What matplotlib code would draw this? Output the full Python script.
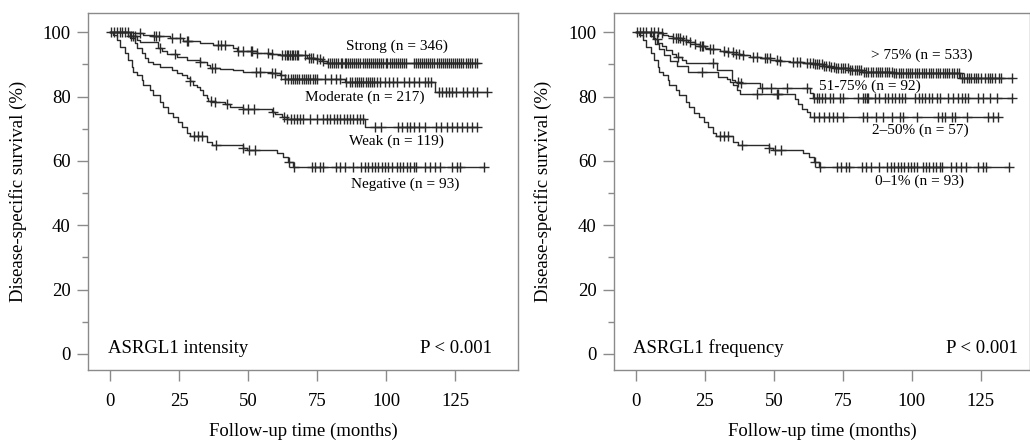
import numpy as np
import matplotlib
matplotlib.use("Agg")
import matplotlib.pyplot as plt

# ---------------- data ----------------
# Left panel: ASRGL1 intensity
strong_t = [8.5, 12.1, 15.7, 21.7, 26.6, 32.6, 37.4, 44.7, 45.9, 53.1, 58.0, 61.6, 71.3, 74.3, 76.7, 78.5]
strong_s = [99.7, 99.3, 98.9, 98.1, 97.4, 96.7, 96.0, 95.0, 94.2, 93.6, 93.2, 92.8, 92.1, 91.6, 91.1, 90.5]
strong_c = [0.5, 1.5, 2.5, 3.5, 4.5, 5.5, 6.5, 10.9, 16.0, 16.8, 17.8, 22.3, 25.4, 27.8, 28.4, 39.1, 40.3,
            41.7, 46.5, 48.3, 51.0, 51.6, 53.1, 57.4, 58.6, 62.2, 63.4, 64.0, 64.6, 65.2, 65.8, 66.4, 67.0,
            67.6, 68.2, 70.7, 72.0, 72.8, 73.5, 75.0, 76.0, 77.3, 79.0, 79.8, 80.5, 81.3, 82.0, 82.7, 83.5,
            84.2, 85.0, 85.6, 86.2, 87.0, 87.8, 88.5, 89.2, 90.0, 90.7, 91.5, 92.2, 93.0, 93.8, 94.5, 95.3,
            96.0, 96.8, 97.5, 98.3, 99.0, 99.8, 100.5, 101.3, 102.0, 102.8, 103.5, 104.3, 105.0, 105.8,
            106.5, 107.2, 110.0, 110.8, 111.5, 112.3, 113.0, 113.8, 114.5, 115.3, 116.0, 116.8, 117.5,
            118.3, 119.0, 119.8, 120.5, 121.3, 122.0, 122.8, 123.5, 124.3, 125.0, 125.8, 126.5, 127.3,
            128.0, 128.8, 129.6, 130.5, 131.3, 132.2, 132.9]

moderate_t = [6.6, 9.7, 10.9, 17.5, 18.7, 20.5, 24.2, 27.8, 32.6, 35.0, 36.2, 39.9, 44.7, 48.3, 58.6, 61.6, 63.4, 85.0, 117.8]
moderate_s = [98.7, 97.6, 97.1, 95.0, 94.2, 93.2, 92.4, 91.4, 90.7, 89.8, 89.0, 88.6, 88.3, 87.8, 87.3, 86.7, 85.6, 84.6, 81.5]
moderate_c = [7.5, 8.2, 9.0, 18.0, 23.5, 32.6, 36.8, 38.0, 53.0, 54.3, 58.6, 59.8, 62.0, 63.4, 64.6, 65.5,
              66.3, 67.0, 67.8, 68.6, 69.4, 70.2, 71.0, 71.8, 72.6, 73.4, 74.2, 74.9, 78.0, 80.0, 82.0, 83.3,
              85.5, 87.0, 87.8, 88.6, 89.4, 90.2, 91.0, 91.8, 92.6, 93.4, 94.2, 95.0, 95.8, 96.6, 97.8, 99.6,
              101.0, 102.5, 104.0, 106.5, 108.3, 110.0, 112.0, 114.0, 115.2, 116.4, 119.2, 120.4, 121.6,
              122.8, 124.0, 125.2, 128.0, 129.2, 131.6, 133.0, 136.5]

weak_t = [7.2, 9.1, 9.7, 11.5, 12.7, 13.9, 15.7, 18.1, 22.3, 24.2, 26.0, 27.8, 29.0, 30.2, 31.4, 32.6,
          33.8, 35.0, 35.6, 38.0, 41.7, 43.5, 48.3, 58.6, 59.8, 62.2, 64.0, 92.4]
weak_s = [98.1, 96.6, 95.0, 93.5, 91.9, 90.9, 90.1, 89.3, 88.3, 87.3, 86.7, 85.7, 84.7, 83.6, 83.1, 82.1,
          80.5, 79.5, 78.7, 78.2, 77.6, 76.9, 76.2, 75.1, 74.5, 73.8, 72.9, 70.7]
weak_c = [29.0, 36.5, 38.0, 42.3, 48.3, 50.0, 52.0, 59.0, 63.0, 64.2, 65.4, 66.5, 67.7, 68.9, 70.0, 72.5,
          75.0, 77.3, 78.5, 79.7, 81.0, 82.2, 83.4, 84.6, 85.8, 87.0, 88.2, 89.4, 90.6, 91.8, 96.0, 98.0,
          104.5, 105.7, 107.5, 108.7, 110.0, 112.0, 114.0, 118.0, 120.0, 122.0, 123.8, 125.6, 127.4,
          129.2, 131.0, 132.8]

negative_t = [1.0, 2.4, 3.6, 5.4, 6.6, 7.9, 8.5, 9.7, 11.5, 12.1, 14.5, 15.7, 18.1, 19.3, 21.1, 22.9,
              24.8, 26.0, 27.8, 29.0, 35.0, 36.8, 48.3, 49.5, 60.4, 62.8, 64.6, 66.4]
negative_s = [99.0, 97.6, 95.5, 93.5, 91.4, 89.3, 87.8, 86.7, 85.2, 83.6, 82.1, 80.5, 78.4, 76.9, 74.8,
              73.8, 72.2, 70.7, 68.6, 67.6, 66.0, 64.8, 63.9, 63.4, 62.4, 61.3, 59.8, 58.2]
negative_c = [30.3, 32.0, 33.2, 38.3, 48.3, 50.3, 52.5, 64.8, 66.8, 73.0, 74.3, 76.0, 77.3, 82.0, 83.3,
              85.0, 88.0, 91.0, 92.4, 93.6, 94.8, 96.0, 97.2, 98.4, 99.6, 100.8, 102.0, 104.0, 105.0,
              106.0, 107.5, 108.7, 110.0, 111.0, 114.0, 116.0, 117.8, 119.6, 123.8, 125.6, 126.8, 135.3]

# Right panel: ASRGL1 frequency
f75_t = [8.1, 9.9, 11.7, 13.5, 16.5, 19.0, 21.4, 23.2, 25.0, 26.8, 30.4, 32.9, 35.3, 37.7, 41.3, 44.9,
         48.6, 52.2, 55.8, 60.6, 64.3, 67.9, 70.3, 72.0, 77.0, 82.0, 93.0, 117.5]
f75_s = [99.7, 99.2, 98.7, 98.1, 97.6, 97.1, 96.3, 95.8, 95.2, 94.7, 94.2, 93.8, 93.3, 93.0, 92.4, 91.9,
         91.4, 91.1, 90.7, 90.4, 90.0, 89.6, 89.2, 88.8, 88.3, 87.8, 87.2, 85.8]
f75_c = [0.5, 1.5, 2.5, 3.5, 5.5, 6.5, 8.0, 9.5, 13.5, 14.5, 15.3, 16.0, 17.0, 18.0, 19.5, 21.5, 23.2,
         23.8, 24.4, 26.8, 28.0, 32.0, 33.5, 35.0, 36.2, 37.4, 38.6, 42.5, 43.7, 46.7, 47.5, 48.5, 51.0,
         52.2, 57.0, 58.2, 59.4, 62.0, 63.0, 64.0, 64.8, 65.6, 66.5, 67.3, 68.2, 69.0, 70.0, 70.8, 71.6,
         72.5, 73.3, 74.2, 75.0, 75.8, 76.7, 77.5, 78.4, 79.2, 80.0, 80.9, 81.7, 82.6, 83.4, 84.2, 85.1,
         85.9, 86.8, 87.6, 88.4, 89.3, 90.1, 91.0, 91.8, 92.6, 93.5, 94.3, 95.2, 96.0, 96.8, 97.7, 98.5,
         99.4, 100.2, 101.0, 101.9, 102.7, 103.6, 104.4, 105.2, 106.1, 106.9, 107.8, 108.6, 109.4,
         110.3, 111.1, 112.0, 112.8, 113.6, 114.5, 115.3, 116.2, 117.0, 118.2, 119.0, 119.9, 120.7,
         121.5, 122.4, 123.2, 124.1, 124.9, 126.5, 127.4, 128.2, 129.1, 130.0, 131.6, 132.4, 136.2]

f51_t = [5.0, 6.5, 8.0, 9.5, 11.0, 13.0, 14.5, 16.5, 18.0, 29.5, 34.7, 35.9, 37.7, 45.0, 63.0, 64.0]
f51_s = [98.9, 97.8, 96.7, 95.6, 94.5, 93.4, 92.3, 91.3, 90.3, 88.3, 85.2, 84.6, 84.1, 82.6, 81.2, 79.5]
f51_c = [7.5, 15.3, 28.0, 37.0, 38.2, 45.5, 49.0, 54.6, 61.8, 64.5, 65.5, 66.5, 67.5, 68.5, 70.3, 71.5,
         73.9, 75.1, 80.5, 82.3, 83.0, 83.6, 84.2, 86.7, 87.9, 90.3, 91.5, 92.7, 94.0, 95.2, 96.4, 97.6,
         101.2, 102.4, 103.6, 104.8, 106.0, 107.2, 109.0, 110.2, 113.2, 115.0, 116.8, 118.0, 119.2,
         120.4, 124.0, 125.8, 128.3, 130.7, 136.1]

f2_t = [6.0, 7.0, 8.5, 10.0, 12.5, 15.0, 19.0, 29.7, 32.9, 34.1, 35.3, 36.5, 37.7, 57.6, 58.8, 60.0, 61.8, 63.0]
f2_s = [98.2, 96.5, 94.7, 93.0, 91.2, 89.5, 87.8, 86.2, 85.6, 84.6, 83.6, 82.1, 80.7, 79.2, 77.7, 76.2, 75.1, 73.8]
f2_c = [23.8, 43.7, 51.0, 51.6, 64.5, 66.5, 68.3, 70.0, 71.5, 72.7, 75.0, 82.4, 83.6, 87.0, 89.6, 92.6,
        95.6, 96.8, 101.7, 109.6, 110.8, 112.0, 114.4, 115.6, 119.8, 127.6, 129.4, 131.3]

f0_t = list(negative_t)
f0_s = list(negative_s)
f0_c = list(negative_c)

left_labels = ["Strong (n = 346)", "Moderate (n = 217)", "Weak (n = 119)", "Negative (n = 93)"]
right_labels = ["> 75% (n = 533)", "51-75% (n = 92)", "2\u201350% (n = 57)", "0\u20131% (n = 93)"]
x_ticks = [0, 25, 50, 75, 100, 125]
y_ticks = [0, 20, 40, 60, 80, 100]

# ---------------- style ----------------
plt.rcParams['font.family'] = ['Liberation Serif', 'DejaVu Serif']
FS = 13.5
TFS = 11
LINE = '#2a2a2a'
GREY = '#8a8a8a'

fig = plt.figure(figsize=(10.3, 4.4), dpi=100)
W, H = 1030.0, 440.0
AX_BOTTOM, AX_TOP = 370.0, 13.3
ax1 = fig.add_axes([88.3 / W, (H - AX_BOTTOM) / H, (518.3 - 88.3) / W, (AX_BOTTOM - AX_TOP) / H])
ax2 = fig.add_axes([614.3 / W, (H - AX_BOTTOM) / H, (1029.5 - 614.3) / W, (AX_BOTTOM - AX_TOP) / H])


def km(ax, t, s, c):
    t = np.asarray(t, float)
    s = np.asarray(s, float)
    c = np.asarray(c, float)
    end = max(c.max(), t.max())
    tt = np.concatenate([[0.0], t, [end]])
    ss = np.concatenate([[100.0], s, [s[-1]]])
    ax.step(tt, ss, where='post', color=LINE, lw=1.0, zorder=3)
    idx = np.searchsorted(tt[:-1], c, side='right') - 1
    cs = ss[np.clip(idx, 0, len(ss) - 1)]
    ax.plot(c, cs, ls='none', marker='+', ms=6.5, mew=1.0, color=LINE, zorder=4)


def style(ax, xmax, ylab_x):
    ax.set_xlim(-7.86, xmax)
    ax.set_ylim(-5.0, 105.9)
    ax.set_xticks(x_ticks)
    ax.set_yticks(y_ticks)
    ax.set_yticks([10, 30, 50, 70, 90], minor=True)
    ax.tick_params(axis='both', which='major', length=7.7, width=1.0, color=GREY,
                   labelsize=FS, direction='out')
    ax.tick_params(axis='y', which='major', pad=5)
    ax.tick_params(axis='y', which='minor', length=4.2, width=1.0, color=GREY, direction='out')
    ax.tick_params(axis='x', pad=8.5)
    for sp in ax.spines.values():
        sp.set_color(GREY)
        sp.set_linewidth(1.0)
    ax.set_ylabel('Disease-specific survival (%)', fontsize=FS)
    ax.yaxis.set_label_coords(ylab_x, 0.5)
    ax.set_xlabel('Follow-up time (months)', fontsize=FS)
    ax.xaxis.label.set_va('baseline')
    ax.xaxis.set_label_coords(0.5, (AX_BOTTOM - 435.5) / (AX_BOTTOM - AX_TOP))


km(ax1, strong_t, strong_s, strong_c)
km(ax1, moderate_t, moderate_s, moderate_c)
km(ax1, weak_t, weak_s, weak_c)
km(ax1, negative_t, negative_s, negative_c)
style(ax1, 147.9, (27.0 - 88.3) / 430.0)

ax1.text(103.9, 95.5, left_labels[0], ha='center', va='center', fontsize=TFS)
ax1.text(92.4, 79.8, left_labels[1], ha='center', va='center', fontsize=TFS)
ax1.text(103.9, 66.0, left_labels[2], ha='center', va='center', fontsize=TFS)
ax1.text(106.9, 52.8, left_labels[3], ha='center', va='center', fontsize=TFS)
ax1.text(-0.6, 1.8, 'ASRGL1 intensity', ha='left', va='center', fontsize=FS)
ax1.text(138.5, 1.8, 'P < 0.001', ha='right', va='center', fontsize=FS)

km(ax2, f75_t, f75_s, f75_c)
km(ax2, f51_t, f51_s, f51_c)
km(ax2, f2_t, f2_s, f2_c)
km(ax2, f0_t, f0_s, f0_c)
style(ax2, 142.6, (551.7 - 614.3) / 415.2)

ax2.text(103.5, 92.7, right_labels[0], ha='center', va='center', fontsize=TFS)
ax2.text(84.8, 83.1, right_labels[1], ha='center', va='center', fontsize=TFS)
ax2.text(102.9, 69.4, right_labels[2], ha='center', va='center', fontsize=TFS)
ax2.text(102.9, 53.6, right_labels[3], ha='center', va='center', fontsize=TFS)
ax2.text(-1.0, 1.8, 'ASRGL1 frequency', ha='left', va='center', fontsize=FS)
ax2.text(138.5, 1.8, 'P < 0.001', ha='right', va='center', fontsize=FS)

fig.savefig('out.png', dpi=100)
